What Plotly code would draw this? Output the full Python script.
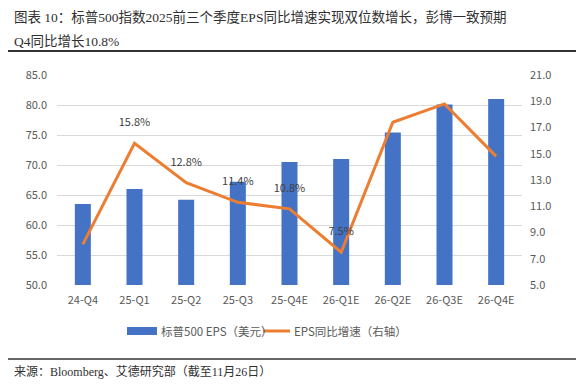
import plotly.graph_objects as go

categories = ["24-Q4", "25-Q1", "25-Q2", "25-Q3", "25-Q4E", "26-Q1E", "26-Q2E", "26-Q3E", "26-Q4E"]
eps_values = [63.5, 66.0, 64.2, 67.2, 70.5, 71.0, 75.4, 80.1, 81.0]
yoy_growth = [8.1, 15.8, 12.8, 11.3, 10.8, 7.5, 17.4, 18.8, 14.8]
yoy_labels = ["", "15.8%", "12.8%", "11.4%", "10.8%", "7.5%", "", "", ""]
left_ticks = [50, 55, 60, 65, 70, 75, 80, 85]
right_ticks = [5, 7, 9, 11, 13, 15, 17, 19, 21]

W, H = 584, 387
PL, PR, PT, PB = 57, 522, 75, 285

sans = "Microsoft YaHei, Noto Sans CJK SC, sans-serif"
serif = "Liberation Serif, Times New Roman, Noto Sans CJK SC, serif"
tick_color = "#595959"

# blank second line lifts the label clear of the line, as in the reference
label_text = [t + "<br> " if t else "" for t in yoy_labels]

fig = go.Figure()
fig.add_trace(go.Bar(
    x=categories, y=eps_values, name="标普500 EPS（美元）",
    marker=dict(color="#4472C4", line=dict(width=0)), width=0.31,
    yaxis="y", showlegend=False,
))
fig.add_trace(go.Scatter(
    x=categories, y=yoy_growth, name="EPS同比增速（右轴）",
    mode="lines+text", text=label_text, textposition="top center",
    textfont=dict(size=11, color="#404040", family=sans),
    line=dict(color="#ED7D31", width=3), yaxis="y2", showlegend=False,
    cliponaxis=False,
))

def px_x(x):
    return x / W

def px_y(y):
    return 1 - y / H

shapes = [
    dict(type="line", xref="paper", yref="paper", x0=px_x(8), x1=px_x(576), y0=px_y(51), y1=px_y(51),
         line=dict(color="#333333", width=2), layer="above"),
    dict(type="line", xref="paper", yref="paper", x0=px_x(8), x1=px_x(576), y0=px_y(359), y1=px_y(359),
         line=dict(color="#333333", width=1.5), layer="above"),
    dict(type="rect", xref="paper", yref="paper", x0=px_x(127), x1=px_x(157), y0=px_y(335), y1=px_y(327),
         fillcolor="#4472C4", line=dict(width=0)),
    dict(type="line", xref="paper", yref="paper", x0=px_x(263), x1=px_x(290), y0=px_y(331), y1=px_y(331),
         line=dict(color="#ED7D31", width=3)),
]

title_font = dict(family=serif, size=13.5, color="#303030")
annotations = [
    dict(text="图表 10：标普500指数2025前三个季度EPS同比增速实现双位数增长，彭博一致预期",
         xref="paper", yref="paper", x=px_x(12), y=px_y(17), xanchor="left", yanchor="middle",
         showarrow=False, font=title_font),
    dict(text="Q4同比增长10.8%",
         xref="paper", yref="paper", x=px_x(12), y=px_y(41), xanchor="left", yanchor="middle",
         showarrow=False, font=title_font),
    dict(text="标普500 EPS（美元）",
         xref="paper", yref="paper", x=px_x(159), y=px_y(331), xanchor="left", yanchor="middle",
         showarrow=False, font=dict(family=sans, size=11.5, color=tick_color)),
    dict(text="EPS同比增速（右轴）",
         xref="paper", yref="paper", x=px_x(292), y=px_y(331), xanchor="left", yanchor="middle",
         showarrow=False, font=dict(family=sans, size=11.5, color=tick_color)),
    dict(text="来源：Bloomberg、艾德研究部（截至11月26日）",
         xref="paper", yref="paper", x=px_x(12), y=px_y(371), xanchor="left", yanchor="middle",
         showarrow=False, font=dict(family=serif, size=12, color="#303030")),
]

fig.update_layout(
    width=W, height=H,
    margin=dict(l=0, r=0, t=0, b=0, pad=0, autoexpand=False),
    paper_bgcolor="white", plot_bgcolor="white",
    xaxis=dict(
        domain=[px_x(PL), px_x(PR)], type="category", automargin=False,
        showgrid=False, showline=False, ticks="", zeroline=False,
        tickfont=dict(family=sans, size=11, color=tick_color),
        ticklabelstandoff=7,
    ),
    yaxis=dict(
        domain=[px_y(PB), px_y(PT)], range=[50, 85], tickvals=left_ticks, automargin=False,
        tickformat=".1f", showgrid=True, gridcolor="#D9D9D9", gridwidth=1,
        zeroline=False, showline=False, ticks="",
        tickfont=dict(family=sans, size=11, color=tick_color),
        ticklabelstandoff=9,
    ),
    yaxis2=dict(
        overlaying="y", side="right", range=[5, 21], tickvals=right_ticks, automargin=False,
        tickformat=".1f", ticksuffix="%", showgrid=False, zeroline=False,
        showline=False, ticks="",
        tickfont=dict(family=sans, size=11, color=tick_color),
        ticklabelstandoff=7,
    ),
    shapes=shapes,
    annotations=annotations,
    showlegend=False,
)

fig.write_html("out.html", config={"displayModeBar": False},
               post_script="document.body.style.margin='0';document.body.style.overflow='hidden';")
